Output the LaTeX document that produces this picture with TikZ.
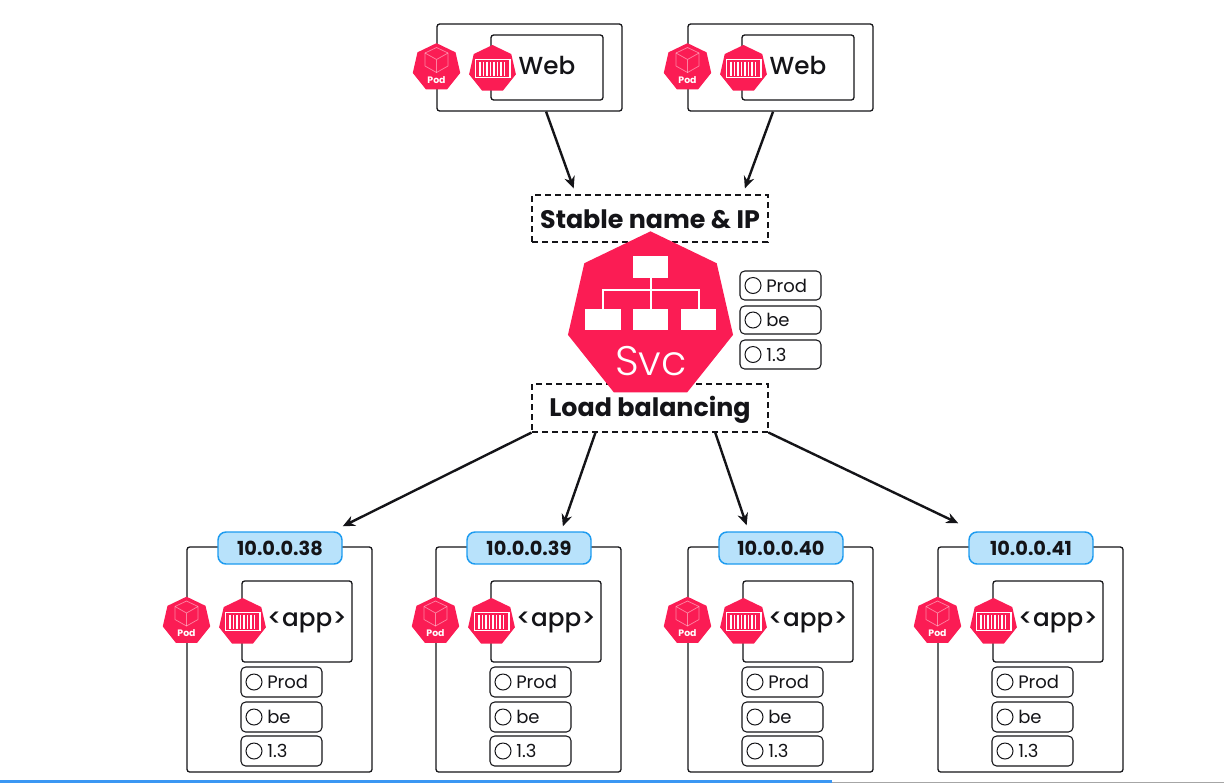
\documentclass[tikz,border=0pt]{standalone}
\usepackage{fontspec}
\setmainfont{Poppins}
\newfontfamily\svcfont{Poppins Light}
\newfontfamily\medfont{Poppins Medium}
\usetikzlibrary{shapes.geometric,calc,arrows.meta}
\definecolor{podred}{HTML}{FB1C54}
\definecolor{ink}{HTML}{141418}
\definecolor{pillfill}{HTML}{B8E2FB}
\definecolor{pillline}{HTML}{1C9BF0}
\definecolor{barblue}{HTML}{3B97F3}
\tikzset{
  x=0.75pt,y=-0.75pt,
  rbox/.style={draw=ink,line width=0.95pt,rounded corners=2pt,inner sep=0pt,fill=white},
  lblbox/.style={draw=ink,line width=0.8pt,rounded corners=3.5pt,inner sep=0pt,fill=white},
  dashbox/.style={draw=ink,line width=0.85pt,dash pattern=on 4.5pt off 3pt,inner sep=0pt},
  pill/.style={draw=pillline,line width=1.1pt,fill=pillfill,rounded corners=6pt,inner sep=0pt},
  pilltext/.style={inner sep=0pt,text=ink,font=\fontsize{14.5}{16}\bfseries\selectfont},
  hept/.style={regular polygon,regular polygon sides=7,fill=podred,inner sep=0pt,outer sep=0pt},
  ring/.style={circle,draw=ink,line width=0.75pt,inner sep=0pt,minimum size=12pt},
  lbltext/.style={inner sep=0pt,text=ink,anchor=west,font=\fontsize{13.5}{15}\selectfont},
  bigtext/.style={inner sep=0pt,text=ink,font=\medfont\fontsize{18.5}{22}\selectfont},
  headtext/.style={inner sep=0pt,text=ink,font=\fontsize{19}{22}\bfseries\selectfont},
  podtext/.style={inner sep=0pt,text=white,font=\fontsize{7}{8}\bfseries\selectfont},
  flow/.style={draw=ink,line width=1.8pt,-{Stealth[length=9pt,width=8pt]}},
}
% box node by pixel corners
\newcommand{\pxbox}[6]{\node[#1,minimum width={((#5)-(#3))*0.75pt},minimum height={((#6)-(#4))*0.75pt}] (#2) at ({((#3)+(#5))/2},{((#4)+(#6))/2}) {};}
% pod icon: name, cx, cy
\newcommand{\podicon}[3]{%
  \node[hept,minimum size=36.5pt] (#1) at ({#2},{#3}) {};
  \begin{scope}[shift={({#2},{#3})},draw=white,draw opacity=.45,line width=0.55pt,line join=round]
    \draw (0,-20) -- (11.5,-14.5) -- (11.5,-1.5) -- (0,5) -- (-11.5,-1.5) -- (-11.5,-14.5) -- cycle;
    \draw (-11.5,-14.5) -- (0,-8) -- (11.5,-14.5) (0,-8) -- (0,5);
  \end{scope}
  \node[podtext] (#1t) at ({#2},{#3+12.5}) {Pod};}
% container icon: name, cx, cy
\newcommand{\cticon}[3]{%
  \node[hept,minimum size=36pt] (#1) at ({#2},{#3}) {};
  \begin{scope}[shift={({#2},{#3})},draw=white]
    \draw[line width=1.1pt] (-17,-9.5) rectangle (17.5,8.5);
    \foreach \bx in {-12.5,-9,-5.5,-2,1.5,5,8.5,12}
      \draw[line width=0.95pt] (\bx,-7.5) -- (\bx,6.5);
  \end{scope}}
% label box: name, left x, top, bottom, ring dx, text
\newcommand{\lbl}[6]{%
  \pxbox{lblbox}{#1}{#2}{#3}{#2+81}{#4}
  \node[ring] (#1r) at ({#2+#5},{(#3+#4)/2}) {};
  \node[lbltext] (#1t) at ({#2+#5+13},{(#3+#4)/2}) {#6};}
% web pod: id, shift
\newcommand{\webpod}[2]{%
  \pxbox{rbox}{web#1}{437+#2}{24}{622+#2}{111}
  \pxbox{rbox}{webin#1}{491+#2}{35}{603+#2}{100}
  \podicon{webpod#1}{436.5+#2}{67.5}
  \cticon{webct#1}{492.5+#2}{69}
  \node[bigtext] (webt#1) at ({547+#2},65) {Web};}
% app card: id, shift
\newcommand{\card}[3]{%
  \pxbox{rbox}{card#1}{187+#2}{547}{372+#2}{772}
  \pxbox{pill}{pill#1}{218+#2}{532}{342+#2}{564}
  \node[pilltext] (pillt#1) at ({280+#2},548) {#3};
  \pxbox{rbox}{app#1}{242+#2}{581}{352+#2}{662}
  \podicon{apppod#1}{186.5+#2}{621}
  \cticon{appct#1}{242.5+#2}{622}
  \node[bigtext] (appt#1) at ({307+#2},622.5) {<app>};
  \lbl{prod#1}{241+#2}{667}{697}{13}{Prod}
  \lbl{be#1}{241+#2}{702}{732}{13}{be}
  \lbl{ver#1}{241+#2}{736}{766}{13}{1.3}}
% connector: from, fraction on south edge, to, fraction on north edge, gap
\newcommand{\conn}[5]{\draw[flow] ($(#1.south west)!#2!(#1.south east)$) -- ($(#3.north west)!#4!(#3.north east)+(0,-#5)$);}
\begin{document}
\begin{tikzpicture}
\useasboundingbox (0,0) rectangle (1224,783);
\fill[white] (0,0) rectangle (1224,783);
% bottom bar
\node[inner sep=0pt,fill=barblue,minimum width=624pt,minimum height=2.2pt] (barb) at (416,781.5) {};
\node[inner sep=0pt,fill=gray!70,minimum width=294pt,minimum height=0.7pt] (barg) at (1028,782.5) {};
% top pods
\webpod{1}{0}
\webpod{2}{251}
% dashed boxes
\pxbox{dashbox}{stable}{532}{195}{768}{242}
\pxbox{dashbox}{lb}{532}{384}{768}{432}
% service
\node[hept,minimum size=127pt] (svc) at (650.5,316) {};
\node[fill=white,inner sep=0pt,minimum width=26.2pt,minimum height=16.5pt] (st) at (650.5,267) {};
\node[fill=white,inner sep=0pt,minimum width=27pt,minimum height=16pt] (s1) at (603,319.5) {};
\node[fill=white,inner sep=0pt,minimum width=26.2pt,minimum height=16pt] (s2) at (650.5,319.5) {};
\node[fill=white,inner sep=0pt,minimum width=26.2pt,minimum height=16pt] (s3) at (698.5,319.5) {};
\draw[white,line width=1.5pt] (st) -- (s2);
\draw[white,line width=1.5pt] (s1.north) -- (603,290) -- (698.5,290) -- (s3.north);
\node[inner sep=0pt,text=white,font=\svcfont\fontsize{31}{34}\selectfont] (svct) at (651,361) {Svc};
\node[headtext] (stablet) at (650,219) {Stable name \& IP};
\node[headtext] (lbt) at (650,410) {Load balancing};
% service labels
\lbl{sprod}{740}{271}{300}{13}{Prod}
\lbl{sbe}{740}{306}{334}{13}{be}
\lbl{sver}{740}{340}{369}{13}{1.3}
% app cards
\card{1}{0}{10.0.0.38}
\card{2}{249}{10.0.0.39}
\card{3}{501}{10.0.0.40}
\card{4}{751}{10.0.0.41}
% connectors
\conn{web1}{0.589}{stable}{0.178}{6}
\conn{web2}{0.46}{stable}{0.9}{6}
\conn{lb}{0}{pill1}{1.0}{5}
\conn{lb}{0.27}{pill2}{0.77}{5}
\conn{lb}{0.775}{pill3}{0.226}{6}
\conn{lb}{1}{pill4}{-0.08}{8}
\end{tikzpicture}
\end{document}
